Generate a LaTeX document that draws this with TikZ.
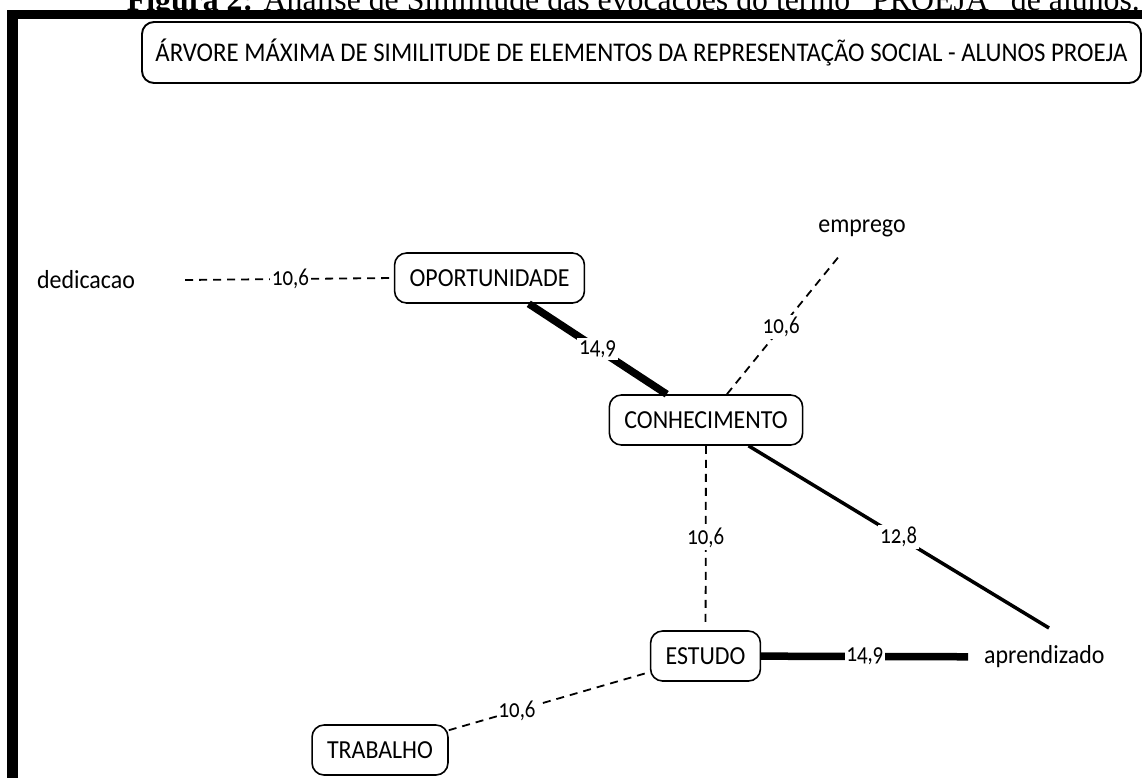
\documentclass[tikz,border=0pt]{standalone}
\usepackage{fontspec}
\setmainfont{Liberation Serif}
\newfontfamily\dfont[FakeStretch=0.92]{Carlito}
\newfontfamily\lfont[Numbers=OldStyle, FakeStretch=0.8]{Carlito}
\begin{document}
\begin{tikzpicture}[x=1pt,y=-1pt,
  box/.style={draw, rounded corners=12pt, line width=1.6pt, minimum height=50pt,
    inner xsep=15pt, inner ysep=0pt, font=\dfont\fontsize{26}{30}\selectfont},
  word/.style={inner sep=2pt, font=\dfont\fontsize{26}{30}\selectfont},
  lbl/.style={fill=white, inner sep=2pt, font=\lfont\fontsize{26}{28}\selectfont},
  dline/.style={dash pattern=on 8pt off 6pt, line width=1.8pt},
  midline/.style={line width=3.5pt},
  thickline/.style={line width=7.5pt}]
\useasboundingbox (0,0) rectangle (1142,778);
\clip (0,0) rectangle (1142,778);
% caption (cut at the top, as in the reference)
\node[anchor=base east, inner sep=0pt, font=\fontsize{31.8}{36}\selectfont] (cap) at (1140,11)
  {\textbf{Figura 2:} Análise de Similitude das evocações do termo “PROEJA” de alunos.};
% frame
\fill (7,10) rectangle (1142,19);
\fill (7,10) rectangle (18,778);
% title
\node[box, line width=1.9pt, minimum width=999pt, minimum height=61pt, inner xsep=0pt,
  font=\dfont\fontsize{27}{32}\selectfont] (title) at (641.5,52.5)
  {ÁRVORE MÁXIMA DE SIMILITUDE DE ELEMENTOS DA REPRESENTAÇÃO SOCIAL - ALUNOS PROEJA};
% nodes
\node[box] (opo) at (489.5,278) {OPORTUNIDADE};
\node[box] (con) at (706,420) {CONHECIMENTO};
\node[box] (est) at (705.5,656) {ESTUDO};
\node[box] (tra) at (380,750) {TRABALHO};
\node[word] (ded) at (86,280) {dedicacao};
\node[word] (emp) at (862,228) {emprego};
\node[word, anchor=west] (apr) at (982,657) {aprendizado};
\coordinate (aprTop) at (1049,628);
% connectors
\draw[dline] ([xshift=48pt]ded.east) -- (opo.west) node[lbl, pos=0.505] {10,6};
\draw[thickline] (opo) -- (con) node[lbl, midway] {14,9};
\draw[dline, shorten >=20pt] (con) -- (emp) node[lbl, pos=0.43] {10,6};
\draw[midline] (con) -- (aprTop) node[lbl, midway] {12,8};
\draw[dline, shorten >=4pt] (con) -- (est) node[lbl, midway] {10,6};
\draw[thickline, shorten >=14pt] (est) -- (apr) node[lbl, pos=0.47] {14,9};
\draw[dline] (tra) -- (est) node[lbl, pos=0.34] {10,6};
\end{tikzpicture}
\end{document}
